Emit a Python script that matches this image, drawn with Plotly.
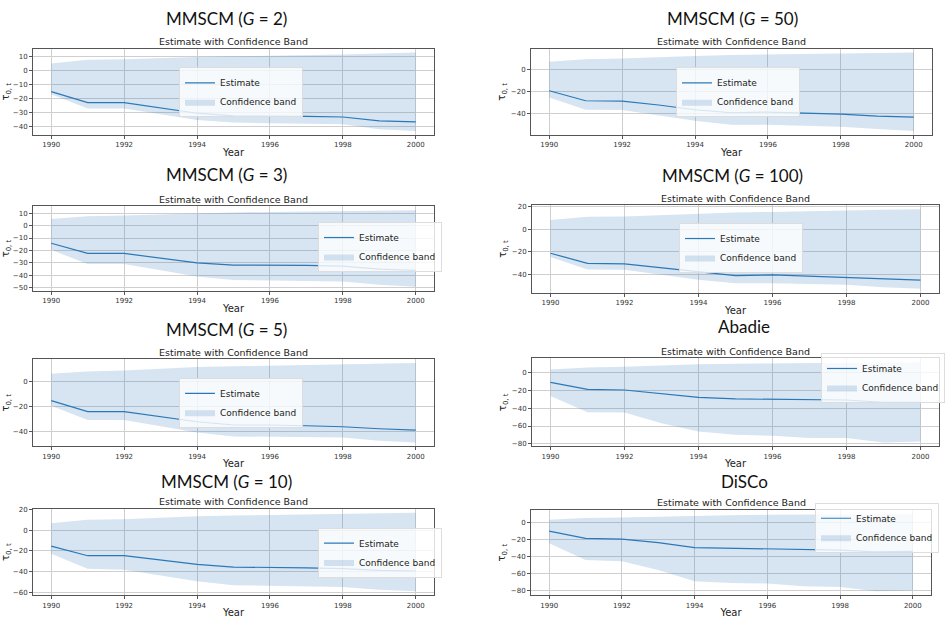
import plotly.graph_objects as go

years = list(range(1990, 2001))

G2_est = [-14.8, -22.6, -22.6, -26.2, -30.2, -32.1, -32.1, -32.4, -32.9, -35.7, -36.4]
G2_upper = [5.2, 7.9, 8.3, 9.2, 10.0, 10.4, 10.7, 11.2, 11.7, 12.4, 13.1]
G2_lower = [-16.7, -26.9, -26.9, -31.0, -35.0, -36.9, -37.4, -37.7, -38.0, -41.7, -42.9]

G3_est = [-14.2, -22.4, -22.4, -26.0, -30.0, -31.8, -31.8, -32.0, -32.6, -35.0, -36.0]
G3_upper = [5.3, 7.6, 8.2, 9.2, 10.0, 10.6, 11.0, 11.3, 11.6, 12.0, 12.4]
G3_lower = [-19.5, -31.0, -31.0, -35.8, -41.0, -43.7, -44.2, -44.5, -45.0, -47.6, -49.3]

G5_est = [-15.5, -24.3, -24.3, -28.0, -32.3, -34.9, -34.9, -35.5, -36.3, -37.9, -38.9]
G5_upper = [5.9, 7.7, 8.5, 10.0, 11.2, 11.8, 12.3, 12.7, 13.0, 13.7, 14.4]
G5_lower = [-19.5, -31.0, -31.0, -36.0, -40.8, -44.0, -44.3, -44.5, -44.8, -47.5, -48.8]

G10_est = [-15.3, -24.6, -24.6, -28.5, -32.9, -35.5, -35.5, -36.2, -37.0, -38.7, -39.3]
G10_upper = [6.7, 9.9, 10.5, 12.0, 13.4, 14.1, 14.7, 15.2, 15.7, 16.2, 16.6]
G10_lower = [-22.7, -37.0, -38.0, -43.5, -49.2, -53.0, -53.7, -54.2, -54.6, -57.2, -58.8]

G50_est = [-19.2, -28.2, -28.5, -32.0, -36.3, -39.0, -38.4, -39.5, -40.2, -42.0, -42.9]
G50_upper = [6.9, 9.3, 9.9, 11.2, 12.3, 13.1, 13.8, 14.1, 14.4, 14.9, 15.3]
G50_lower = [-25.2, -36.3, -36.6, -41.7, -46.2, -49.8, -49.8, -50.7, -51.6, -53.7, -55.5]

G100_est = [-21.3, -30.4, -30.7, -34.2, -38.3, -41.2, -40.6, -41.8, -42.7, -44.4, -45.3]
G100_upper = [8.2, 11.1, 11.4, 12.8, 14.0, 15.0, 15.5, 16.3, 17.0, 17.4, 17.8]
G100_lower = [-24.6, -35.7, -36.0, -40.5, -45.0, -48.0, -48.0, -48.7, -49.4, -51.5, -52.9]

Abadie_est = [-10.8, -18.7, -19.4, -23.9, -27.7, -29.5, -29.9, -31.0, -30.7, -33.3, -33.3]
Abadie_upper = [3.7, 6.0, 6.7, 8.3, 9.7, 10.1, 10.5, 10.9, 11.2, 11.6, 12.0]
Abadie_lower = [-26.2, -44.5, -44.9, -56.8, -66.2, -69.9, -71.0, -73.6, -73.6, -78.5, -77.4]

DiSCo_est = [-10.4, -18.8, -19.6, -23.8, -29.6, -30.4, -31.2, -32.3, -32.7, -34.6, -34.2]
DiSCo_upper = [3.1, 5.0, 5.8, 6.8, 7.7, 8.3, 8.8, 8.8, 8.8, 9.5, 10.0]
DiSCo_lower = [-24.6, -44.2, -45.8, -55.8, -69.2, -71.2, -71.9, -75.0, -75.8, -81.0, -79.6]

panel_titles = ["MMSCM (<i>G</i> = 2)", "MMSCM (<i>G</i> = 50)",
                "MMSCM (<i>G</i> = 3)", "MMSCM (<i>G</i> = 100)",
                "MMSCM (<i>G</i> = 5)", "Abadie",
                "MMSCM (<i>G</i> = 10)", "DiSCo"]
series = [(G2_est, G2_upper, G2_lower), (G50_est, G50_upper, G50_lower),
          (G3_est, G3_upper, G3_lower), (G100_est, G100_upper, G100_lower),
          (G5_est, G5_upper, G5_lower), (Abadie_est, Abadie_upper, Abadie_lower),
          (G10_est, G10_upper, G10_lower), (DiSCo_est, DiSCo_upper, DiSCo_lower)]
y_dticks = [10, 20, 10, 20, 20, 20, 20, 20]

W, H = 947, 626
# plot-area pixel boxes: (left, top, right, bottom)
boxes = [(33, 46, 434, 133), (531, 46, 932, 133),
         (33, 205, 434, 290), (532, 204, 939, 292),
         (33, 359, 434, 447), (532, 358, 939, 447),
         (33, 510, 434, 597), (531, 511, 931, 597)]
title_pos = [(226, 16), (732, 16), (226, 173), (732, 174),
             (226, 329), (744, 326), (226, 482), (744, 482)]
# legend: left edge x, vertical centre y
legend_pos = [(179, 90), (676, 90), (318, 246), (679, 247),
              (179, 403), (821, 378), (318, 554), (815, 529)]

LINE = "#2a78b8"
BAND = "rgba(40,110,180,0.19)"
TXT = "DejaVu Sans"

fig = go.Figure()
annotations = []
layout_upd = {}

for i, ((est, up, lo), box) in enumerate(zip(series, boxes)):
    n = i + 1
    xa = "x" if n == 1 else f"x{n}"
    ya = "y" if n == 1 else f"y{n}"
    lg = "legend" if n == 1 else f"legend{n}"
    fig.add_trace(go.Scatter(x=years, y=up, mode="lines", line=dict(width=0, color=LINE),
                             showlegend=False, hoverinfo="skip", xaxis=xa, yaxis=ya, legend=lg))
    fig.add_trace(go.Scatter(x=years, y=lo, mode="lines", line=dict(width=0, color=LINE),
                             fill="tonexty", fillcolor=BAND, name="Confidence band",
                             legendrank=2, xaxis=xa, yaxis=ya, legend=lg))
    fig.add_trace(go.Scatter(x=years, y=est, mode="lines", line=dict(width=1.2, color=LINE),
                             name="Estimate", legendrank=1, xaxis=xa, yaxis=ya, legend=lg))

    l, t, r, b = box
    lo_all = min(lo + est)
    hi_all = max(up + est)
    span = hi_all - lo_all
    axis_common = dict(showline=True, mirror=True, linecolor="#555", linewidth=1,
                       ticks="outside", ticklen=3, tickcolor="#555",
                       showgrid=True, gridcolor="#cfcfcf", gridwidth=1, zeroline=False,
                       tickfont=dict(family=TXT, size=7, color="#333"))
    layout_upd["xaxis" if n == 1 else f"xaxis{n}"] = dict(
        domain=[l / W, r / W], anchor=ya, range=[1989.5, 2000.5],
        tickmode="linear", tick0=1990, dtick=2,
        title=dict(text="Year", standoff=0, font=dict(family=TXT, size=10, color="#222")),
        **axis_common)
    layout_upd["yaxis" if n == 1 else f"yaxis{n}"] = dict(
        domain=[1 - b / H, 1 - t / H], anchor=xa,
        range=[lo_all - 0.05 * span, hi_all + 0.05 * span],
        tickmode="linear", tick0=0, dtick=y_dticks[i],
        title=dict(text="τ<sub>0, t</sub>", standoff=3, font=dict(family=TXT, size=10, color="#222")),
        **axis_common)

    lx, ly = legend_pos[i]
    layout_upd[lg] = dict(x=lx / W, y=1 - ly / H, xanchor="left", yanchor="middle",
                          bgcolor="rgba(255,255,255,0.8)", bordercolor="#dddddd", borderwidth=1,
                          font=dict(family=TXT, size=9, color="#222"),
                          traceorder="normal", tracegroupgap=0, itemwidth=30)

    tx, ty = title_pos[i]
    annotations.append(dict(text=panel_titles[i], x=tx / W, y=1 - ty / H, xref="paper", yref="paper",
                            showarrow=False, xanchor="center", yanchor="middle",
                            font=dict(family="Lato", size=17, color="#111")))
    annotations.append(dict(text="Estimate with Confidence Band", x=(l + r) / 2 / W, y=1 - (t - 7) / H,
                            xref="paper", yref="paper", showarrow=False, xanchor="center", yanchor="middle",
                            font=dict(family=TXT, size=9.5, color="#222")))

fig.update_layout(width=W, height=H, margin=dict(l=0, r=0, t=0, b=0),
                  paper_bgcolor="white", plot_bgcolor="white",
                  annotations=annotations, **layout_upd)

fig.write_html("out.html", config={"displayModeBar": False},
               post_script="document.body.style.margin='0';")
